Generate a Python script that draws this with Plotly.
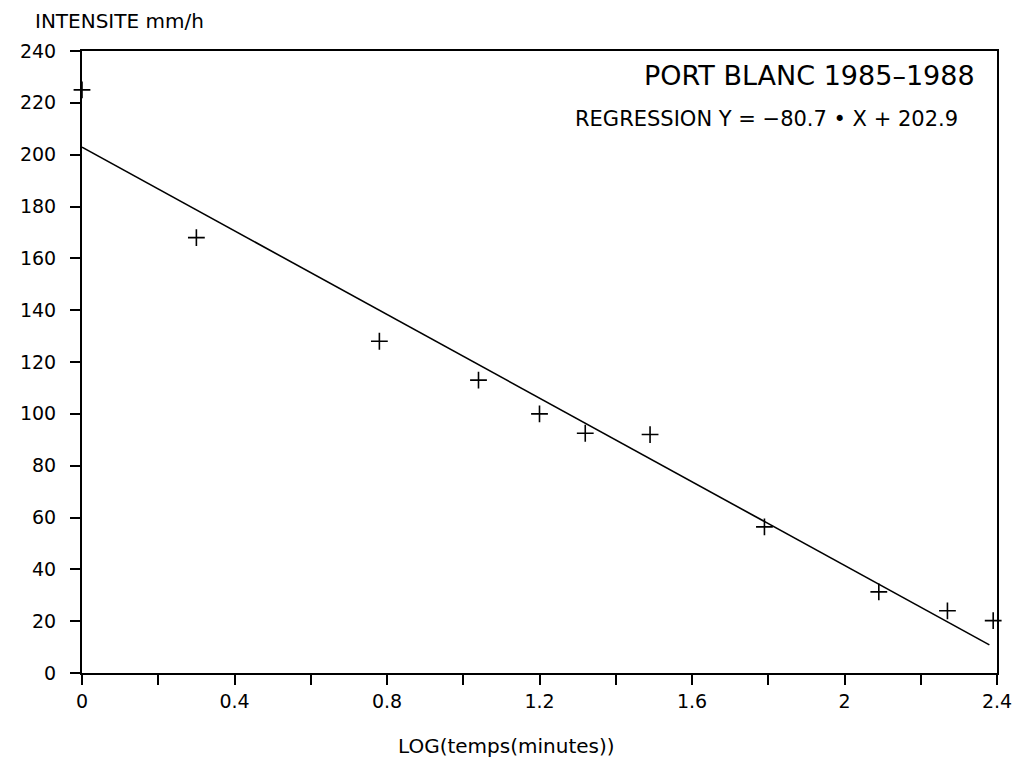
import plotly.graph_objects as go

# Observed points: x = LOG(temps(minutes)), y = intensity mm/h
log_time = [0.0, 0.30, 0.78, 1.04, 1.20, 1.32, 1.49, 1.79, 2.09, 2.27, 2.39]
intensity = [225, 168, 128, 113, 100, 92.5, 92, 56.4, 31.3, 24, 20.2]

# Regression line parameters
slope = -80.7
intercept = 202.9
line_x = [0.0, 2.38]
line_y = [slope * v + intercept for v in line_x]

x_tickvals = [0, 0.2, 0.4, 0.6, 0.8, 1.0, 1.2, 1.4, 1.6, 1.8, 2.0, 2.2, 2.4]
x_ticktext = ["0", "", "0.4", "", "0.8", "", "1.2", "", "1.6", "", "2", "", "2.4"]
y_tickvals = [0, 20, 40, 60, 80, 100, 120, 140, 160, 180, 200, 220, 240]

FONT = "DejaVu Sans"

fig = go.Figure()
fig.add_trace(go.Scatter(x=line_x, y=line_y, mode="lines",
                         line=dict(color="black", width=1.6),
                         showlegend=False, hoverinfo="skip"))
fig.add_trace(go.Scatter(x=log_time, y=intensity, mode="markers",
                         marker=dict(symbol="cross-thin", size=12,
                                     line=dict(color="black", width=1.6)),
                         showlegend=False, cliponaxis=False))

fig.update_layout(
    width=1018, height=750,
    margin=dict(l=74, r=29, t=43, b=85),
    paper_bgcolor="white", plot_bgcolor="white",
    font=dict(family=FONT, color="black", size=19),
    xaxis=dict(range=[0, 2.4], tickvals=x_tickvals, ticktext=x_ticktext,
               showgrid=False, zeroline=False, showline=True, mirror=True,
               linecolor="black", linewidth=2, ticks="outside", ticklen=10,
               tickwidth=2, tickcolor="black",
               tickfont=dict(size=19, family=FONT, color="black"),
               automargin=False),
    yaxis=dict(range=[0, 240], tickvals=y_tickvals,
               showgrid=False, zeroline=False, showline=True, mirror=True,
               linecolor="black", linewidth=2, ticks="outside", ticklen=10,
               tickwidth=2, tickcolor="black",
               tickfont=dict(size=19, family=FONT, color="black"),
               ticklabelstandoff=10, automargin=False),
    annotations=[
        dict(text="PORT BLANC 1985\u20131988", xref="paper", yref="paper",
             x=0.978, y=0.961, xanchor="right", yanchor="middle",
             showarrow=False, font=dict(size=27, family=FONT)),
        dict(text="REGRESSION Y = \u221280.7 \u2022 X + 202.9", xref="paper", yref="paper",
             x=0.9596, y=0.8907, xanchor="right", yanchor="middle",
             showarrow=False, font=dict(size=21, family=FONT)),
        dict(text="INTENSITE mm/h", xref="paper", yref="paper",
             x=-0.0536, y=1.048, xanchor="left", yanchor="middle",
             showarrow=False, font=dict(size=20, family=FONT)),
        dict(text="LOG(temps(minutes))", xref="paper", yref="paper",
             x=0.464, y=-0.117, xanchor="center", yanchor="middle",
             showarrow=False, font=dict(size=20, family=FONT)),
    ],
)

fig.write_html("out.html")
